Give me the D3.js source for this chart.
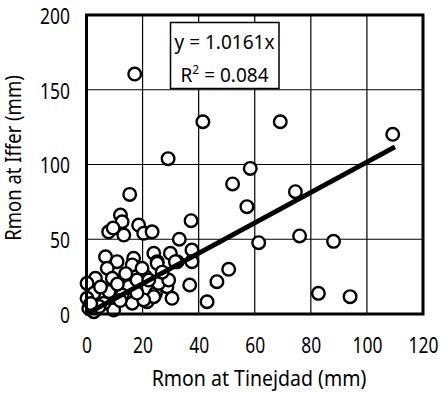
<!DOCTYPE html>
<html>
<head>
<meta charset="utf-8">
<script src="https://cdn.jsdelivr.net/npm/d3@7"></script>
<style>
  body { margin: 0; background: #fff; }
  text { font-family: "Noto Sans", sans-serif; fill: #000; }
</style>
</head>
<body>
<div id="chart"></div>
<script>
// Rmon at Tinejdad (x) vs Rmon at Iffer (y), mm
var tinejdad = [17.2, 41.5, 69.1, 109.2, 29.1, 58.4, 52.1, 74.5, 15.4, 57.2, 37.3, 61.4, 76, 88.1, 33.1, 50.7, 46.5, 43, 82.7, 94, 36.8, 37.6, 37.6,
	12.1, 12.7, 7.9, 13.3, 18.6, 20.4, 23.4, 9.5,
	6.8, 10.9, 16.8, 24, 25.2, 29.9, 16.3, 32.3, 7.4, 9.2, 3.2, 0.2, 2.6, 0.2, 0.8, 2.6, 9.7, 15.1, 21, 21.6, 24.6, 28.7, 30.5, 12.7, 16.3, 6.2, 18, 25.7, 19.8, 25.2, 22.2, 29.3, 24, 20.4, 31.7,
	4.5, 1.5, 12, 8, 14, 11, 27, 5, 18];
var iffer = [160.5, 128.6, 128.6, 120.2, 103.9, 97.4, 87, 81.8, 80, 71.8, 62.4, 47.7, 52.2, 48.6, 50, 29.9, 21.6, 8.2, 13.8, 11.6, 19.4, 42.8, 35,
	66.2, 61.7, 55, 52.8, 59.5, 54, 55, 57.5,
	38.3, 35, 37.3, 40.6, 35, 40.6, 32.8, 35, 30.6, 23.9, 23.9, 20.5, 13.8, 10.5, 3.8, 1.5, 2.7, 18.3, 25, 8.2, 13.8, 18.3, 10.5, 12.7, 7.2, 7.2, 22.7, 20.5, 30.6, 33.9, 22.7, 22.7, 11.6, 9.4, 35,
	5, 7, 9, 15, 27, 20, 28, 18, 14];

var xTicks = [0, 20, 40, 60, 80, 100, 120];
var yTicks = [0, 50, 100, 150, 200];
var slope = 1.0161;
var fitRange = [0.6, 110];
var eqText = "y = 1.0161x";
var r2Text = "0.084";

var w = 441, h = 394;
var svg = d3.select("#chart").append("svg")
	.attr("width", w)
	.attr("height", h);

var x = d3.scaleLinear().domain([0, 120]).range([86.5, 423]);
var y = d3.scaleLinear().domain([0, 200]).range([314, 15]);

// grid
svg.append("g").selectAll("line")
	.data(xTicks.slice(1, -1))
	.enter().append("line")
	.attr("x1", function(d) { return x(d); })
	.attr("x2", function(d) { return x(d); })
	.attr("y1", y(0)).attr("y2", y(200))
	.attr("stroke", "#000").attr("stroke-width", 1.2);
svg.append("g").selectAll("line")
	.data(yTicks.slice(1, -1))
	.enter().append("line")
	.attr("x1", x(0)).attr("x2", x(120))
	.attr("y1", function(d) { return y(d); })
	.attr("y2", function(d) { return y(d); })
	.attr("stroke", "#000").attr("stroke-width", 1.2);

// axes (labels only, frame drawn separately)
var xax = svg.append("g")
	.attr("transform", "translate(0," + y(0) + ")")
	.call(d3.axisBottom(x).tickValues(xTicks).tickSize(0).tickPadding(24));
var yax = svg.append("g")
	.attr("transform", "translate(" + x(0) + ",0)")
	.call(d3.axisLeft(y).tickValues(yTicks).tickSize(0).tickPadding(20));
[xax, yax].forEach(function(ax) {
	ax.select(".domain").remove();
	ax.selectAll("text")
		.style("font-family", "'Noto Sans', sans-serif")
		.style("font-size", "21px")
		.attr("transform", "scale(0.83,1)");
});
yax.selectAll("text").attr("dy", "0.4em");

// equation box
var box = svg.append("g");
box.append("rect")
	.attr("x", 170.5).attr("y", 22.5)
	.attr("width", 108.5).attr("height", 66)
	.attr("fill", "#fff").attr("stroke", "#000").attr("stroke-width", 1.5);
box.append("text")
	.attr("x", 224.5).attr("y", 48.5)
	.attr("text-anchor", "middle")
	.style("font-size", "19px")
	.text(eqText);
var r2 = box.append("text")
	.attr("x", 224.5).attr("y", 82)
	.attr("text-anchor", "middle")
	.style("font-size", "19px");
r2.append("tspan").text("R");
r2.append("tspan").attr("dy", -8).style("font-size", "12px").text("2");
r2.append("tspan").attr("dy", 8).text(" = " + r2Text);

// points
var pts = d3.range(tinejdad.length);
svg.append("g").selectAll("circle")
	.data(pts)
	.enter().append("circle")
	.attr("cx", function(i) { return x(tinejdad[i]); })
	.attr("cy", function(i) { return y(iffer[i]); })
	.attr("r", 6.3)
	.attr("fill", "#fff")
	.attr("stroke", "#000")
	.attr("stroke-width", 2.4);

// fitted line
var line = d3.line()
	.x(function(d) { return x(d); })
	.y(function(d) { return y(slope * d); });
svg.append("path")
	.datum(fitRange)
	.attr("d", line)
	.attr("fill", "none")
	.attr("stroke", "#000")
	.attr("stroke-width", 5);

// frame
svg.append("rect")
	.attr("x", x(0)).attr("y", y(200))
	.attr("width", x(120) - x(0)).attr("height", y(0) - y(200))
	.attr("fill", "none").attr("stroke", "#000").attr("stroke-width", 3);

// titles
svg.append("text")
	.attr("transform", "translate(259,386) scale(0.93,1)")
	.attr("text-anchor", "middle")
	.style("font-size", "21px")
	.text("Rmon at Tinejdad (mm)");
svg.append("text")
	.attr("transform", "translate(21,158) rotate(-90) scale(0.88,1)")
	.attr("text-anchor", "middle")
	.style("font-size", "21px")
	.text("Rmon at Iffer (mm)");
</script>
</body>
</html>
